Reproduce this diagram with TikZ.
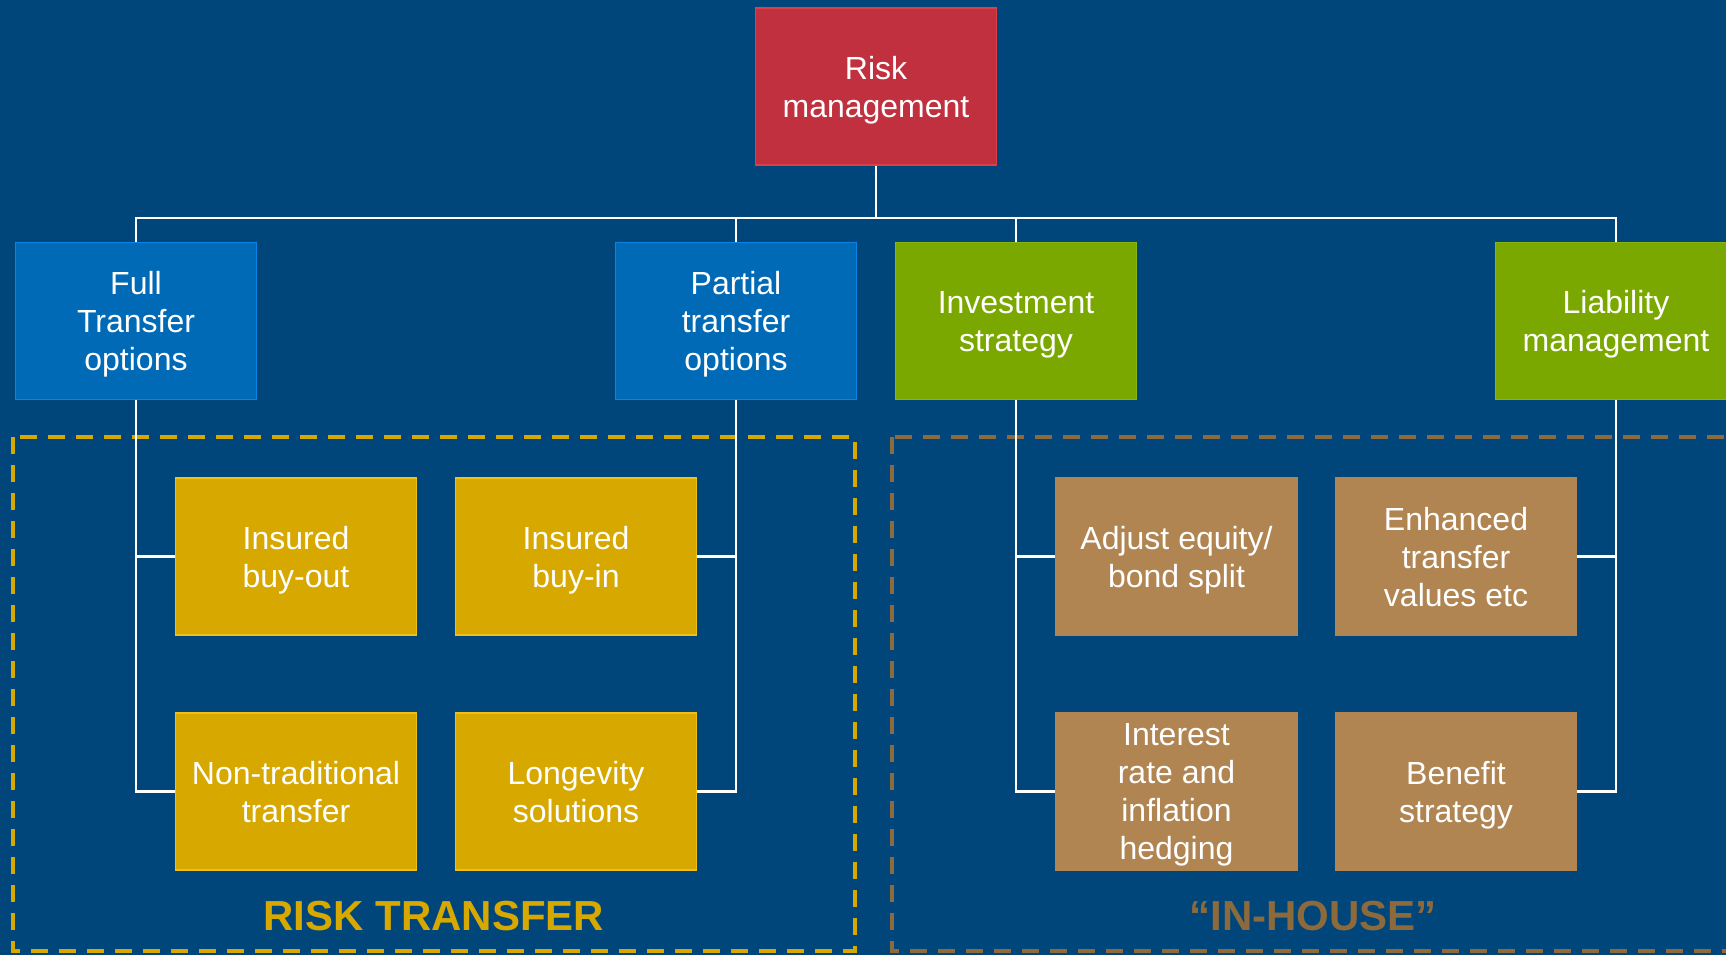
\documentclass[tikz,border=0pt]{standalone}
\usepackage{fontspec}
\setmainfont{Liberation Sans}

\definecolor{bgblue}{RGB}{0,70,122}
\definecolor{riskred}{RGB}{192,48,62}
\definecolor{riskredline}{RGB}{222,62,72}
\definecolor{optblue}{RGB}{0,106,182}
\definecolor{optblueline}{RGB}{10,132,228}
\definecolor{stratgreen}{RGB}{122,168,0}
\definecolor{stratgreenline}{RGB}{138,182,16}
\definecolor{transyellow}{RGB}{214,168,0}
\definecolor{transyellowline}{RGB}{240,192,20}
\definecolor{housebrown}{RGB}{176,133,82}
\definecolor{housedash}{RGB}{140,106,60}

\tikzset{
  box/.style={draw, line width=1.5pt, text=white, align=center, inner sep=0pt,
    text depth=-6pt, minimum width=241pt, minimum height=157pt, font=\fontsize{32}{38}\selectfont},
  topbox/.style={box, fill=riskred, draw=riskredline},
  optbox/.style={box, fill=optblue, draw=optblueline},
  stratbox/.style={box, fill=stratgreen, draw=stratgreenline},
  transbox/.style={box, fill=transyellow, draw=transyellowline},
  housebox/.style={box, fill=housebrown, draw=housebrown},
  link/.style={draw=white, line width=2.5pt},
  grouptitle/.style={anchor=base, font=\bfseries\fontsize{42}{48}\selectfont},
}

\begin{document}
\begin{tikzpicture}[x=1pt,y=-1pt]
        \useasboundingbox (0,0) rectangle (1726,955);
        \fill[bgblue] (0,0) rectangle (1726,955);
        \clip (0,0) rectangle (1726,955);

        % top level
        \node[topbox] (risk) at (876,86.5) {Risk\\management};
        \coordinate (bus) at (876,218);

        % second level
        \node[optbox] (full) at (136,321) {Full\\Transfer\\options};
        \node[optbox] (partial) at (736,321) {Partial\\transfer\\options};
        \node[stratbox] (invest) at (1016,321) {Investment\\strategy};
        \node[stratbox] (liab) at (1616,321) {Liability\\management};

        % group frames
        \draw[transyellow, line width=4pt, dash pattern=on 17pt off 11pt] (13,437) rectangle (855,951);
        \draw[housedash, line width=4pt, dash pattern=on 17pt off 11pt] (892,437) rectangle (1760,951);
        \node[grouptitle, text=transyellow] (rtitle) at (434,930) {RISK TRANSFER};
        \node[grouptitle, text=housedash] (htitle) at (1313,930) {“IN-HOUSE”};

        % third level
        \node[transbox] (buyout) at (296,556.5) {Insured\\buy-out};
        \node[transbox] (buyin) at (576,556.5) {Insured\\buy-in};
        \node[transbox] (nontrad) at (296,791.5) {Non-traditional\\transfer};
        \node[transbox] (longev) at (576,791.5) {Longevity\\solutions};
        \node[housebox] (equity) at (1176.5,556.5) {Adjust equity/\\bond split};
        \node[housebox] (enhanced) at (1456,556.5) {Enhanced\\transfer\\values etc};
        \node[housebox] (interest) at (1176.5,791.5) {Interest\\rate and\\inflation\\hedging};
        \node[housebox] (benefit) at (1456,791.5) {Benefit\\strategy};

        % connectors
        \draw[link] (risk.south) -- (bus);
        \draw[link] (bus) -| (full.north);
        \draw[link] (bus) -| (partial.north);
        \draw[link] (bus) -| (invest.north);
        \draw[link] (bus) -| (liab.north);
        \draw[link] (full.south) |- (buyout.west);
        \draw[link] (full.south) |- (nontrad.west);
        \draw[link] (partial.south) |- (buyin.east);
        \draw[link] (partial.south) |- (longev.east);
        \draw[link] (invest.south) |- (equity.west);
        \draw[link] (invest.south) |- (interest.west);
        \draw[link] (liab.south) |- (enhanced.east);
        \draw[link] (liab.south) |- (benefit.east);
    \end{tikzpicture}
\end{document}
